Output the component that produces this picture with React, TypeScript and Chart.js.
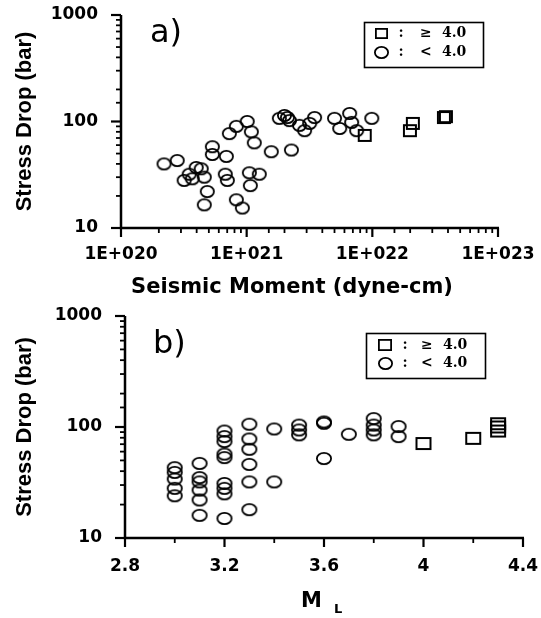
import React, { useEffect, useRef } from "react";
import { Chart, registerables } from "chart.js";

Chart.register(...registerables);

// ---------- Panel a) : stress drop vs seismic moment ----------
const MOMENT_CIRCLES = [
  2.2e20, 2.8e20, 3.18e20, 3.49e20, 3.97e20, 4.35e20, 4.6e20, 3.69e20, 4.86e20, 4.6e20,
  5.33e20, 5.33e20, 6.89e20, 6.76e20, 7.02e20, 8.28e20, 9.24e20, 7.28e20, 8.28e20, 1.01e21,
  1.09e21, 1.15e21, 1.05e21, 1.26e21, 1.07e21, 1.57e21, 2.27e21, 1.82e21, 2.0e21, 2.11e21,
  2.19e21, 2.63e21, 2.89e21, 3.17e21, 3.47e21, 5.0e21, 5.5e21, 6.6e21, 6.85e21, 7.5e21,
  9.9e21,
];
const STRESS_MOMENT_CIRCLES = [
  40, 43, 28, 32, 37, 36, 30, 29, 22, 16.5,
  58, 49, 47, 32, 28, 18.4, 15.4, 77, 90, 100,
  80, 63, 33, 32, 25, 52, 54, 107, 114, 109,
  102, 92, 82, 96, 109, 107, 86, 119, 98, 82,
  107,
];
const MOMENT_SQUARES = [8.7e21, 1.99e22, 2.1e22, 3.71e22, 3.85e22];
const STRESS_MOMENT_SQUARES = [74, 82, 96, 109, 111];

// ---------- Panel b) : stress drop vs ML ----------
const ML_CIRCLES = [
  3.0, 3.0, 3.0, 3.0, 3.0,
  3.1, 3.1, 3.1, 3.1, 3.1, 3.1,
  3.2, 3.2, 3.2, 3.2, 3.2, 3.2, 3.2, 3.2, 3.2,
  3.3, 3.3, 3.3, 3.3, 3.3, 3.3,
  3.4, 3.4,
  3.5, 3.5, 3.5,
  3.6, 3.6, 3.6,
  3.7,
  3.8, 3.8, 3.8, 3.8,
  3.9, 3.9,
];
const STRESS_ML_CIRCLES = [
  43, 39, 34, 28, 24,
  47, 35, 32, 27, 22, 16,
  92, 82, 74, 57, 53, 31, 28, 25, 15,
  106, 78, 63, 46, 32, 18,
  96, 32,
  104, 94, 85,
  111, 108, 52,
  86,
  119, 104, 94, 85,
  101, 82,
];
const ML_SQUARES = [4.0, 4.2, 4.3, 4.3, 4.3];
const STRESS_ML_SQUARES = [71, 79, 92, 100, 107];

// ---------- Ticks and texts ----------
const MOMENT_TICK_VALUES = [1e20, 1e21, 1e22, 1e23];
const MOMENT_TICK_LABELS = ["1E+020", "1E+021", "1E+022", "1E+023"];
const STRESS_TICK_VALUES = [10, 100, 1000];
const STRESS_TICK_LABELS = ["10", "100", "1000"];
const ML_TICK_VALUES = [2.8, 3.2, 3.6, 4.0, 4.4];
const ML_TICK_LABELS = ["2.8", "3.2", "3.6", "4", "4.4"];
const LEGEND_LABELS = ["≥ 4.0", "< 4.0"];
const PANEL_LABELS = ["a)", "b)"];
const X_TITLE_A = "Seismic Moment (dyne-cm)";
const X_TITLE_B = ["M", "L"];
const Y_TITLE = "Stress Drop (bar)";

const TICK_FONT = { family: "DejaVu Sans", size: 17, weight: "bold" as const };
const Y_TITLE_FONT = { family: "'Liberation Sans', Arial", size: 22, weight: "bold" as const };

function makeEllipse(w: number, h: number, lw: number) {
  const c = document.createElement("canvas");
  c.width = w + 2;
  c.height = h + 2;
  const g = c.getContext("2d")!;
  g.strokeStyle = "#000";
  g.lineWidth = lw;
  g.beginPath();
  g.ellipse(c.width / 2, c.height / 2, w / 2 - lw / 2, h / 2 - lw / 2, 0, 0, Math.PI * 2);
  g.stroke();
  return c;
}
function makeSquare(w: number, h: number, lw: number) {
  const c = document.createElement("canvas");
  c.width = w + 2;
  c.height = h + 2;
  const g = c.getContext("2d")!;
  g.strokeStyle = "#000";
  g.lineWidth = lw;
  g.strokeRect(1 + lw / 2, 1 + lw / 2, w - lw, h - lw);
  return c;
}

const isPow10 = (v: number) => Math.abs(Math.log10(v) - Math.round(Math.log10(v))) < 1e-6;
const findLabel = (vals: number[], labels: string[], v: number, log: boolean) => {
  const i = vals.findIndex((m) =>
    log ? Math.abs(Math.log10(m) - Math.log10(v)) < 1e-6 : Math.abs(m - v) < 1e-6
  );
  return i >= 0 ? labels[i] : "";
};

type DecorCfg = {
  panel: string;
  panelX: number;
  panelY: number;
  box: { x: number; y: number; w: number; h: number };
  rows: number[];
  markerX: number;
  colonX: number;
  symX: number;
  valX: number;
  square: HTMLCanvasElement;
  circle: HTMLCanvasElement;
  majorX: (v: number) => boolean;
  drawXTitle: (ctx: CanvasRenderingContext2D) => void;
};

function makeDecor(d: DecorCfg) {
  return {
    id: "decor",
    afterDraw(chart: any) {
      const ctx: CanvasRenderingContext2D = chart.ctx;
      const ca = chart.chartArea;
      const xs = chart.scales.x;
      const ys = chart.scales.y;
      ctx.save();
      ctx.strokeStyle = "#000";
      ctx.fillStyle = "#000";
      // x ticks
      for (const t of xs.ticks) {
        const px = xs.getPixelForValue(t.value);
        const major = d.majorX(t.value);
        ctx.lineWidth = major ? 2.2 : 1.8;
        ctx.beginPath();
        ctx.moveTo(px, ca.bottom);
        ctx.lineTo(px, ca.bottom + (major ? 9 : 5));
        ctx.stroke();
      }
      // y ticks
      for (const t of ys.ticks) {
        const py = ys.getPixelForValue(t.value);
        const major = isPow10(t.value);
        ctx.lineWidth = major ? 2.2 : 1.8;
        ctx.beginPath();
        ctx.moveTo(ca.left, py);
        ctx.lineTo(ca.left - (major ? 10 : 5), py);
        ctx.stroke();
      }
      // axes
      ctx.lineWidth = 2.5;
      ctx.beginPath();
      ctx.moveTo(ca.left, ca.top);
      ctx.lineTo(ca.left, ca.bottom);
      ctx.lineTo(ca.right + 1, ca.bottom);
      ctx.stroke();
      // panel label
      ctx.font = '32px "DejaVu Sans"';
      ctx.textAlign = "left";
      ctx.textBaseline = "alphabetic";
      ctx.fillText(d.panel, d.panelX, d.panelY);
      // legend
      ctx.lineWidth = 1.6;
      ctx.strokeRect(d.box.x + 0.5, d.box.y + 0.5, d.box.w, d.box.h);
      ctx.font = 'bold 14px "DejaVu Serif"';
      ctx.textBaseline = "middle";
      LEGEND_LABELS.forEach((lab, i) => {
        const y = d.rows[i];
        const m = i === 0 ? d.square : d.circle;
        ctx.drawImage(m, Math.round(d.markerX - m.width / 2), Math.round(y - m.height / 2));
        ctx.textAlign = "center";
        ctx.fillText(":", d.colonX, y);
        ctx.textAlign = "left";
        const [sym, val] = lab.split(" ");
        ctx.fillText(sym, d.symX, y);
        ctx.fillText(val, d.valX, y);
      });
      d.drawXTitle(ctx);
      ctx.restore();
    },
  };
}

function buildConfig(kind: "a" | "b") {
  const isA = kind === "a";
  const circle = isA ? makeEllipse(15, 13, 1.8) : makeEllipse(16, 13, 1.8);
  const square = isA ? makeSquare(14, 13, 2) : makeSquare(16, 13, 2);
  const circleData = isA
    ? MOMENT_CIRCLES.map((x, i) => ({ x, y: STRESS_MOMENT_CIRCLES[i] }))
    : ML_CIRCLES.map((x, i) => ({ x, y: STRESS_ML_CIRCLES[i] }));
  const squareData = isA
    ? MOMENT_SQUARES.map((x, i) => ({ x, y: STRESS_MOMENT_SQUARES[i] }))
    : ML_SQUARES.map((x, i) => ({ x, y: STRESS_ML_SQUARES[i] }));

  const decor = makeDecor({
    panel: isA ? PANEL_LABELS[0] : PANEL_LABELS[1],
    panelX: isA ? 150 : 153,
    panelY: isA ? 42 : 53,
    box: isA ? { x: 364, y: 22, w: 119, h: 45 } : { x: 366, y: 33, w: 119, h: 45 },
    rows: isA ? [33, 52] : [45, 63],
    markerX: isA ? 381 : 385,
    colonX: isA ? 401 : 405,
    symX: isA ? 420 : 421,
    valX: isA ? 442 : 443,
    square: isA ? makeSquare(13, 11, 1.8) : makeSquare(14, 12, 1.8),
    circle: makeEllipse(15, 13, 1.8),
    majorX: isA
      ? (v: number) => isPow10(v)
      : (v: number) => ML_TICK_VALUES.some((m) => Math.abs(m - v) < 1e-6),
    drawXTitle: (ctx) => {
      ctx.textBaseline = "alphabetic";
      if (isA) {
        ctx.font = 'bold 21px "DejaVu Sans"';
        ctx.textAlign = "center";
        ctx.fillText(X_TITLE_A, 292, 293);
      } else {
        ctx.textAlign = "left";
        ctx.font = 'bold 21px "DejaVu Sans"';
        ctx.fillText(X_TITLE_B[0], 301, 307);
        ctx.font = 'bold 13px "DejaVu Sans"';
        ctx.fillText(X_TITLE_B[1], 334, 313);
      }
    },
  });

  const xFit = (h: number) => (s: any) => {
    s.height = h;
    s.paddingLeft = 0;
    s.paddingRight = 0;
  };

  return {
    type: "scatter" as const,
    data: {
      datasets: [
        {
          label: LEGEND_LABELS[1],
          data: circleData,
          pointStyle: circle,
          pointRadius: 7,
          backgroundColor: "transparent",
          borderColor: "#000",
        },
        {
          label: LEGEND_LABELS[0],
          data: squareData,
          pointStyle: square,
          pointRadius: 7,
          backgroundColor: "transparent",
          borderColor: "#000",
        },
      ],
    },
    options: {
      animation: false as const,
      responsive: false,
      devicePixelRatio: 1,
      events: [],
      layout: { padding: isA ? { top: 15, right: 43, left: 0, bottom: 0 } : { top: 16, right: 18, left: 0, bottom: 0 } },
      plugins: { legend: { display: false }, tooltip: { enabled: false } },
      scales: {
        x: isA
          ? {
              type: "logarithmic" as const,
              min: 1e20,
              max: 1e23,
              grid: { display: false, drawTicks: false },
              border: { display: false },
              afterFit: xFit(72),
              ticks: {
                autoSkip: false,
                maxRotation: 0,
                minRotation: 0,
                padding: 16,
                color: "#000",
                font: TICK_FONT,
                callback: (v: any) => findLabel(MOMENT_TICK_VALUES, MOMENT_TICK_LABELS, Number(v), true),
              },
            }
          : {
              type: "linear" as const,
              min: 2.8,
              max: 4.4,
              grid: { display: false, drawTicks: false },
              border: { display: false },
              afterFit: xFit(80),
              ticks: {
                stepSize: 0.2,
                autoSkip: false,
                maxRotation: 0,
                minRotation: 0,
                padding: 18,
                color: "#000",
                font: TICK_FONT,
                callback: (v: any) => findLabel(ML_TICK_VALUES, ML_TICK_LABELS, Number(v), false),
              },
            },
        y: {
          type: "logarithmic" as const,
          min: 10,
          max: 1000,
          grid: { display: false, drawTicks: false },
          border: { display: false },
          afterFit: (s: any) => {
            s.width = isA ? 121 : 125;
            s.paddingTop = 0;
            s.paddingBottom = 0;
          },
          title: {
            display: true,
            text: Y_TITLE,
            color: "#000",
            font: Y_TITLE_FONT,
            padding: { top: 12, bottom: 0 },
          },
          ticks: {
            autoSkip: false,
            padding: 23,
            color: "#000",
            font: TICK_FONT,
            callback: (v: any) => findLabel(STRESS_TICK_VALUES, STRESS_TICK_LABELS, Number(v), true),
          },
        },
      },
    },
    plugins: [decor],
  };
}

function ChartPanel({ kind, top, height }: { kind: "a" | "b"; top: number; height: number }) {
  const ref = useRef<HTMLCanvasElement | null>(null);
  useEffect(() => {
    if (!ref.current) return;
    const chart = new Chart(ref.current, buildConfig(kind) as any);
    return () => chart.destroy();
  }, [kind]);
  return (
    <canvas
      ref={ref}
      width={541}
      height={height}
      style={{ position: "absolute", left: 0, top, width: 541, height }}
    />
  );
}

export default function App() {
  return (
    <div
      style={{
        position: "fixed",
        left: 0,
        top: 0,
        width: 541,
        height: 618,
        background: "#fff",
        overflow: "hidden",
      }}
    >
      <ChartPanel kind="a" top={0} height={300} />
      <ChartPanel kind="b" top={300} height={318} />
    </div>
  );
}
